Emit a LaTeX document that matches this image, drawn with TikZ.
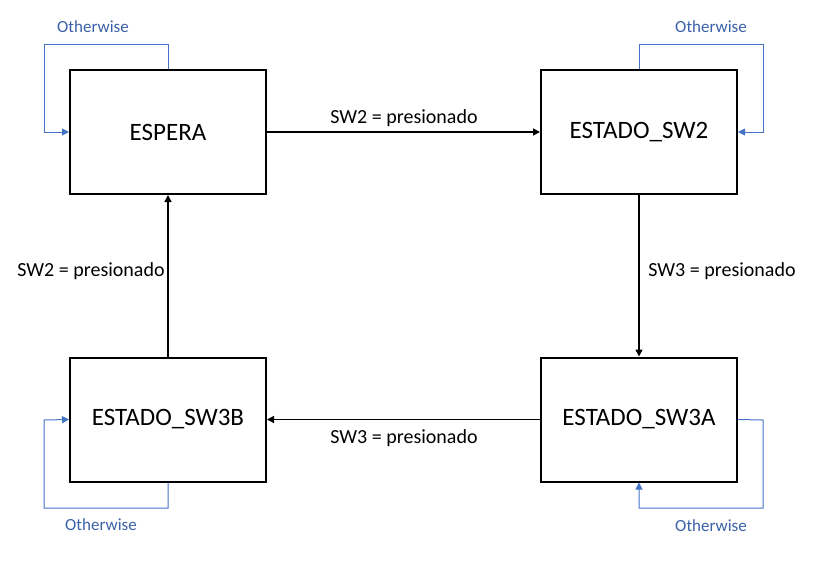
\documentclass[tikz,border=0pt]{standalone}
\usepackage{fontspec}
\setmainfont{Carlito}
\usetikzlibrary{arrows.meta}
\definecolor{loopblue}{HTML}{4472C4}
\tikzset{
  state/.style={draw=black, line width=2pt, minimum width=196pt, minimum height=124pt, inner sep=0pt, font=\fontsize{25}{28}\selectfont},
  trans/.style={draw=black, line width=1.5pt, -{Triangle[length=7pt,width=7pt]}},
  selfloop/.style={draw=loopblue, line width=1pt, -{Triangle[length=7pt,width=7pt]}},
  lbl/.style={font=\fontsize{20}{23}\selectfont, inner sep=0pt},
  olbl/.style={font=\fontsize{17}{20}\selectfont, text=loopblue!85!black, inner sep=0pt}
}
\begin{document}
\begin{tikzpicture}[x=1pt,y=-1pt]
\useasboundingbox (0,0) rectangle (827,560);
\node[state] (esp) at (168,132) {ESPERA};
\node[state] (sw2) at (639,132) {ESTADO\_SW2};
\node[state] (sw3b) at (168,419.5) {ESTADO\_SW3B};
\node[state] (sw3a) at (639,419.5) {ESTADO\_SW3A};

\draw[trans] (esp.east) -- (sw2.west);
\draw[trans] (sw2.south) -- (sw3a.north);
\draw[trans] (sw3a.west) -- (sw3b.east);
\draw[trans] (sw3b.north) -- (esp.south);

\node[lbl] (l1) at (404,118) {SW2 = presionado};
\node[lbl] (l2) at (722,271) {SW3 = presionado};
\node[lbl] (l3) at (404,438) {SW3 = presionado};
\node[lbl] (l4) at (91,271) {SW2 = presionado};

\coordinate (a1) at (168,44);
\coordinate (a2) at (44,44);
\coordinate (a3) at (44,132);
\draw[selfloop] (esp.north) -- (a1) -- (a2) -- (a3) -- (esp.west);
\node[olbl] (o1) at (93,27) {Otherwise};

\coordinate (b1) at (639,44);
\coordinate (b2) at (763,44);
\coordinate (b3) at (763,132);
\draw[selfloop] (sw2.north) -- (b1) -- (b2) -- (b3) -- (sw2.east);
\node[olbl] (o2) at (711,27) {Otherwise};

\coordinate (c1) at (168,508);
\coordinate (c2) at (44,508);
\coordinate (c3) at (44,420);
\draw[selfloop] (sw3b.south) -- (c1) -- (c2) -- (c3) -- (sw3b.west);
\node[olbl] (o3) at (101,525) {Otherwise};

\coordinate (d1) at (763,420);
\coordinate (d2) at (763,508);
\coordinate (d3) at (639,508);
\draw[selfloop] (sw3a.east) -- (d1) -- (d2) -- (d3) -- (sw3a.south);
\node[olbl] (o4) at (711,526) {Otherwise};
\end{tikzpicture}
\end{document}
